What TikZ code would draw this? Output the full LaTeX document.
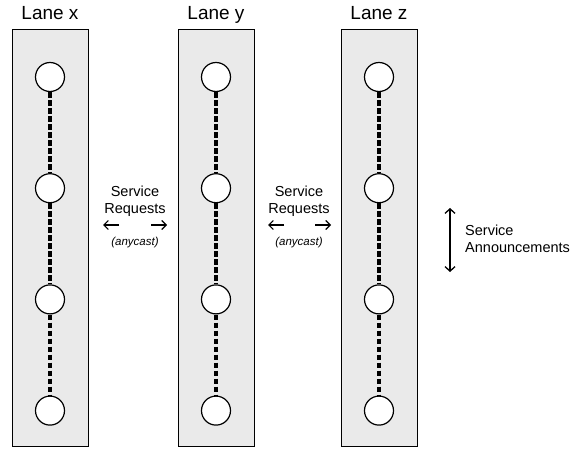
\documentclass[tikz,border=0pt]{standalone}
\usepackage{fontspec}
\setmainfont{Liberation Sans}
\usetikzlibrary{arrows.meta, positioning}
\definecolor{lnInk}{HTML}{000000}
\definecolor{lnFill}{HTML}{EAEAEA}
\tikzset{
  lane/.style={
    draw=lnInk, line width=1pt, fill=lnFill, inner sep=0pt,
    minimum width=76pt, minimum height=416pt
  },
  lanelbl/.style={font=\fontsize{19}{22}\selectfont, inner sep=0pt, anchor=base},
  hop/.style={circle, draw=lnInk, line width=1.2pt, fill=white, minimum size=29pt, inner sep=0pt},
  chain/.style={draw=lnInk, line width=3.6pt, dash pattern=on 5.5pt off 2.5pt},
  svc/.style={font=\fontsize{14.5}{17}\selectfont, align=center, inner sep=0pt},
  cast/.style={font=\fontsize{11.5}{13}\selectfont\itshape, inner sep=0pt},
  req/.style={-{Straight Barb[length=4.5pt, width=9pt]}, line width=1.1pt, draw=lnInk},
  ann/.style={{Straight Barb[length=4.5pt, width=10pt]}-{Straight Barb[length=4.5pt, width=10pt]},
    line width=1.3pt, draw=lnInk},
}
\begin{document}
\begin{tikzpicture}[x=1pt, y=-1pt, node distance=81pt]
  \useasboundingbox (0,0) rectangle (573,449);
  % lanes
  \node[lane] (lx) at (50,238) {};
  \node[lane] (ly) at (216,238) {};
  \node[lane] (lz) at (379,238) {};
  \node[lanelbl] (tx) at (50,20) {Lane x};
  \node[lanelbl] (ty) at (216,20) {Lane y};
  \node[lanelbl] (tz) at (379,20) {Lane z};
  % hops, lane x
  \node[hop] (x1) at (50,77) {};
  \node[hop, below=of x1] (x2) {};
  \node[hop, below=of x2] (x3) {};
  \node[hop, below=of x3] (x4) {};
  % hops, lane y
  \node[hop] (y1) at (216,77) {};
  \node[hop, below=of y1] (y2) {};
  \node[hop, below=of y2] (y3) {};
  \node[hop, below=of y3] (y4) {};
  % hops, lane z
  \node[hop] (z1) at (379,77) {};
  \node[hop, below=of z1] (z2) {};
  \node[hop, below=of z2] (z3) {};
  \node[hop, below=of z3] (z4) {};
  \draw[chain] (x1) -- (x2);
  \draw[chain] (x2) -- (x3);
  \draw[chain] (x3) -- (x4);
  \draw[chain] (y1) -- (y2);
  \draw[chain] (y2) -- (y3);
  \draw[chain] (y3) -- (y4);
  \draw[chain] (z1) -- (z2);
  \draw[chain] (z2) -- (z3);
  \draw[chain] (z3) -- (z4);
  % requests between lanes
  \node[svc] (sr1) at (135,201) {Service\\Requests};
  \node[cast] (ac1) at (135,243) {(anycast)};
  \coordinate (sr1lo) at (119,225);
  \coordinate (sr1li) at (103,225);
  \coordinate (sr1ro) at (151,225);
  \coordinate (sr1ri) at (167,225);
  \draw[req] (sr1lo) -- (sr1li);
  \draw[req] (sr1ro) -- (sr1ri);
  \node[svc] (sr2) at (299,201) {Service\\Requests};
  \node[cast] (ac2) at (299,243) {(anycast)};
  \coordinate (sr2lo) at (284,225);
  \coordinate (sr2li) at (268,225);
  \coordinate (sr2ro) at (315,225);
  \coordinate (sr2ri) at (331,225);
  \draw[req] (sr2lo) -- (sr2li);
  \draw[req] (sr2ro) -- (sr2ri);
  % announcements
  \coordinate (an1) at (450,208);
  \coordinate (an2) at (450,272);
  \draw[ann] (an1) -- (an2);
  \node[svc, align=left, anchor=west] (sa) at (465,239) {Service\\Announcements};
\end{tikzpicture}
\end{document}
